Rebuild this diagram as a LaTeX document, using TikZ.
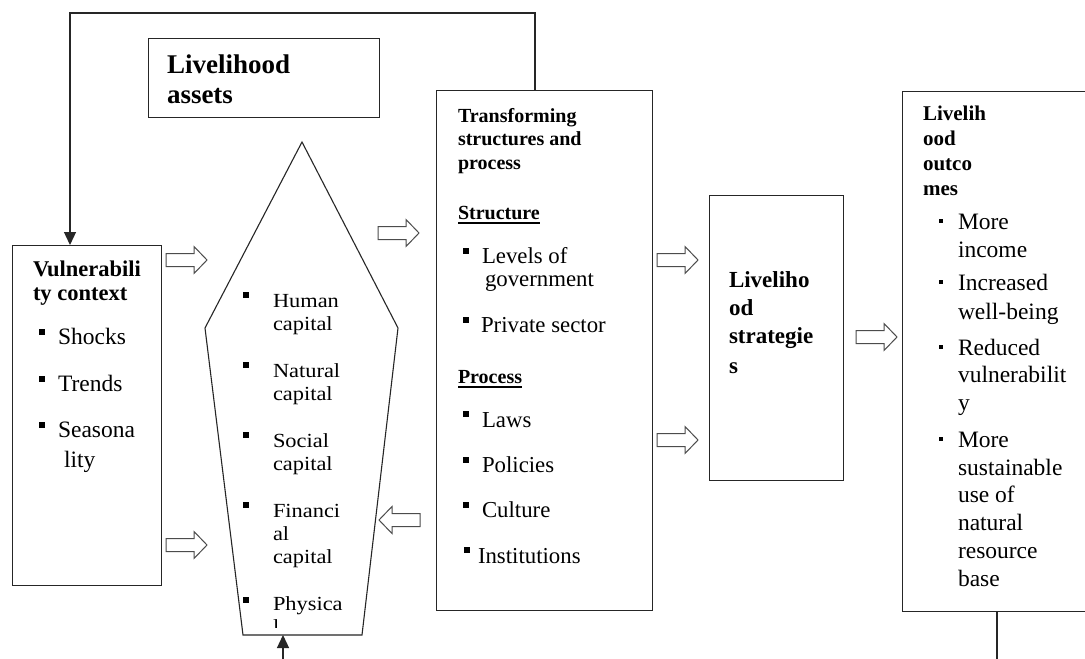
\documentclass[tikz,border=0pt]{standalone}
\usepackage{fontspec}
\setmainfont{Liberation Serif}
\newfontfamily\wideserif[FakeStretch=1.12]{Liberation Serif}
\usetikzlibrary{arrows.meta}
\newcommand\fsz[1]{\fontsize{#1}{#1}\selectfont}
\tikzset{
  box/.style={draw=black!85, line width=1.3pt, rectangle, inner sep=0pt, anchor=north west},
  tx/.style={anchor=base west, inner sep=0pt, outer sep=0pt},
  hd/.style={tx, font=\bfseries\fsz{#1}},
  rg/.style={tx, font=\fsz{#1}},
  pt/.style={tx, font=\wideserif\fsz{20}},
  bul/.style={fill=black, rectangle, inner sep=0pt, minimum size=#1},
  bul/.default=6pt,
  conn/.style={draw=black!85, line width=1.3pt},
  blockarrow/.style={draw=black!70, line width=1pt, fill=white, line join=miter},
}
\newcommand\barrow[3]{\draw[blockarrow, shift={(#1,#2)}, rotate=#3]
  (0,-6.5) -- (28,-6.5) -- (28,-13.5) -- (41,0) -- (28,13.5) -- (28,6.5) -- (0,6.5) -- cycle;}
\begin{document}
\begin{tikzpicture}[x=1pt, y=-1pt]
\clip (0,0) rectangle (1085,659);
\fill[white] (0,0) rectangle (1085,659);

% boxes
\node[box, minimum width=231pt, minimum height=79pt] (assets) at (148,38) {};
\node[box, minimum width=149pt, minimum height=340pt] (vul) at (12,245) {};
\node[box, minimum width=216pt, minimum height=520pt] (trans) at (436,90) {};
\node[box, minimum width=134pt, minimum height=285pt] (strat) at (709,195) {};
\node[box, minimum width=200pt, minimum height=520pt] (out) at (902,91) {};

% pentagon
\coordinate (pa) at (302,142);
\coordinate (pr) at (398,328);
\coordinate (pbr) at (362,635);
\coordinate (pbl) at (243,635);
\coordinate (pl) at (205,328);
\draw[draw=black!85, line width=1.1pt] (pa) -- (pr) -- (pbr) -- (pbl) -- (pl) -- cycle;

% connectors
\coordinate (tl) at (70,13);
\coordinate (tr) at (535,13);
\draw[conn, -{Triangle[length=13pt, width=12pt]}] (trans.north -| tr) -- (tr) -- (tl) -- (vul.north -| tl);
\coordinate (pbot) at (283,635);
\coordinate (pin) at (283,670);
\draw[conn, -{Triangle[length=13pt, width=12pt]}] (pin) -- (pbot);
\coordinate (ob) at (997,670);
\draw[conn] (out.south -| ob) -- (ob);

% block arrows
\barrow{166}{260}{0}
\barrow{166}{545}{0}
\barrow{378}{233}{0}
\barrow{420}{520}{180}
\barrow{657}{260}{0}
\barrow{657}{440}{0}
\barrow{856}{337}{0}

% livelihood assets
\node[hd=27] (as1) at (167,73) {Livelihood};
\node[hd=27] (as2) at (167,103) {assets};

% vulnerability
\node[hd=22.5] (v1) at (33,276) {Vulnerabili};
\node[hd=22.5] (v2) at (33,300) {ty context};
\node[rg=23.5] (v3) at (58,344) {Shocks};
\node[rg=23.5] (v4) at (58,391) {Trends};
\node[rg=23.5] (v5) at (58,437) {Seasona};
\node[rg=23.5] (v6) at (64,467) {lity};
\node[bul] (vb1) at (42,332) {};
\node[bul] (vb2) at (42,379) {};
\node[bul] (vb3) at (42,425) {};

% pentagon text
\node[pt] (p1) at (273,307) {Human};
\node[pt] (p2) at (273,330) {capital};
\node[pt] (p3) at (273,377) {Natural};
\node[pt] (p4) at (273,400) {capital};
\node[pt] (p5) at (273,447) {Social};
\node[pt] (p6) at (273,470) {capital};
\node[pt] (p7) at (273,517) {Financi};
\node[pt] (p8) at (273,540) {al};
\node[pt] (p9) at (273,563) {capital};
\node[pt] (p10) at (273,610) {Physica};
\begin{scope}
\clip (260,600) rectangle (360,627);
\node[pt] (p11) at (273,633) {l};
\end{scope}
\node[bul] (pb1) at (246,295) {};
\node[bul] (pb2) at (246,365) {};
\node[bul] (pb3) at (246,435) {};
\node[bul] (pb4) at (246,505) {};
\node[bul] (pb5) at (246,600) {};

% transforming structures
\node[hd=20] (t1) at (458,122) {Transforming};
\node[hd=20] (t2) at (458,145) {structures and};
\node[hd=20] (t3) at (458,169) {process};
\node[hd=20] (t4) at (458,219) {Structure};
\draw[line width=1.3pt] ([yshift=-4pt]t4.base west) -- ([yshift=-4pt]t4.base east);
\node[rg=22.8] (t5) at (482,263) {Levels of};
\node[rg=22.8] (t6) at (485,286) {government};
\node[rg=22.8] (t7) at (481,332) {Private sector};
\node[hd=20] (t8) at (458,383) {Process};
\draw[line width=1.3pt] ([yshift=-4pt]t8.base west) -- ([yshift=-4pt]t8.base east);
\node[rg=22.8] (t9) at (482,427) {Laws};
\node[rg=22.8] (t10) at (482,472) {Policies};
\node[rg=22.8] (t11) at (482,517) {Culture};
\node[rg=22.8] (t12) at (478,563) {Institutions};
\node[bul] (tb1) at (466,251) {};
\node[bul] (tb2) at (466,320) {};
\node[bul] (tb3) at (466,414) {};
\node[bul] (tb4) at (466,460) {};
\node[bul] (tb5) at (466,505) {};
\node[bul] (tb6) at (467,550) {};

% strategies
\node[hd=23] (s1) at (729,287) {Liveliho};
\node[hd=23] (s2) at (729,315) {od};
\node[hd=23] (s3) at (729,343) {strategie};
\node[hd=23] (s4) at (729,373) {s};

% outcomes
\node[hd=21] (o1) at (923,120) {Livelih};
\node[hd=21] (o2) at (923,145) {ood};
\node[hd=21] (o3) at (923,170) {outco};
\node[hd=21] (o4) at (923,195) {mes};
\node[rg=23.5] (o5) at (958,229) {More};
\node[rg=23.5] (o6) at (958,257) {income};
\node[rg=23.5] (o7) at (958,290) {Increased};
\node[rg=23.5] (o8) at (958,319) {well-being};
\node[rg=23.5] (o9) at (958,355) {Reduced};
\node[rg=23.5] (o10) at (958,382) {vulnerabilit};
\node[rg=23.5] (o11) at (958,410) {y};
\node[rg=23.5] (o12) at (958,447) {More};
\node[rg=23.5] (o13) at (958,475) {sustainable};
\node[rg=23.5] (o14) at (958,502) {use of};
\node[rg=23.5] (o15) at (958,530) {natural};
\node[rg=23.5] (o16) at (958,558) {resource};
\node[rg=23.5] (o17) at (958,586) {base};
\node[bul=4.5pt] (ob1) at (941,221) {};
\node[bul=4.5pt] (ob2) at (941,282) {};
\node[bul=4.5pt] (ob3) at (941,347) {};
\node[bul=4.5pt] (ob4) at (941,439) {};
\end{tikzpicture}
\end{document}
